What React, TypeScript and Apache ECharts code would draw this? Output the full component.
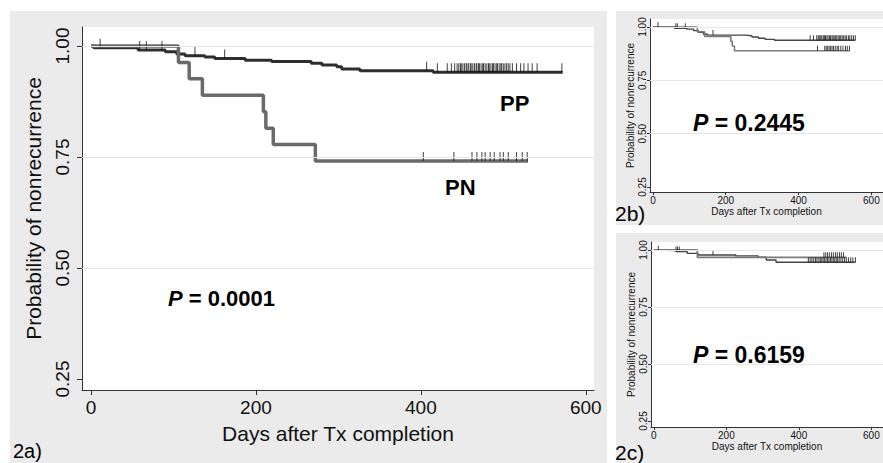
import React, { useEffect, useRef } from 'react';
import * as echarts from 'echarts';

// ---------- Data ----------
const xTicks = [0, 200, 400, 600];
const yTicks = [0.25, 0.5, 0.75, 1.0];
const gridTicks = [0.5, 0.75, 1.0];

// Panel 2a: Kaplan-Meier steps [day, probability]
const aPP: [number, number][] = [
  [0, 1], [3, 0.996], [57, 0.991], [90, 0.987], [104, 0.982], [114, 0.978], [138, 0.975],
  [150, 0.972], [187, 0.968], [219, 0.965], [267, 0.961], [280, 0.957], [298, 0.953],
  [304, 0.948], [326, 0.944], [415, 0.941], [572, 0.941],
];
const aPN: [number, number][] = [
  [0, 1], [106, 0.963], [119, 0.926], [135, 0.889], [209, 0.852], [212, 0.815],
  [221, 0.778], [272, 0.741], [530, 0.741],
];
const aPPCens = [11, 59, 67, 86, 126, 162, 407, 420, 432, 437, 441, 444, 446, 448, 449, 451, 453,
  455, 456, 458, 460, 461, 463, 465, 467, 468, 470, 471, 473, 475, 476, 478, 480, 482, 483, 485,
  487, 488, 490, 492, 493, 495, 497, 498, 500, 502, 504, 506, 508, 511, 516, 521, 525, 530, 535,
  541, 571];
const aPNCens = [403, 440, 462, 468, 474, 478, 484, 489, 496, 500, 506, 516, 523, 529];

// Panel 2b
const bPP: [number, number][] = [
  [0, 1], [59, 0.994], [93, 0.99], [112, 0.983], [125, 0.975], [139, 0.966], [150, 0.962],
  [254, 0.959], [272, 0.953], [290, 0.947], [308, 0.942], [334, 0.938], [556, 0.938],
];
const bPN: [number, number][] = [
  [0, 1], [122, 0.978], [142, 0.956], [214, 0.933], [218, 0.911], [224, 0.889], [540, 0.889],
];
const bPPCens = [14, 63, 67, 89, 165, 432, 441, 450, 454, 457, 461, 464, 468, 471, 474, 478, 481,
  485, 488, 492, 495, 498, 502, 505, 509, 513, 516, 520, 524, 528, 532, 537, 541, 546, 551, 556];
const bPNCens = [452, 472, 476, 480, 484, 488, 492, 496, 501, 506, 510, 516, 522, 529, 534, 540];

// Panel 2c
const cPP: [number, number][] = [
  [0, 1], [5, 0.997], [61, 0.993], [92, 0.985], [122, 0.978], [226, 0.974], [288, 0.968],
  [310, 0.956], [337, 0.946], [556, 0.946],
];
const cPN: [number, number][] = [[0, 1], [120, 0.968], [531, 0.968]];
const cPPCens = [12, 61, 65, 70, 163, 426, 431, 436, 441, 446, 450, 455, 459, 463, 467, 471, 475,
  479, 483, 487, 491, 495, 499, 503, 507, 511, 516, 521, 526, 531, 537, 543, 549, 556];
const cPNCens = [469, 474, 479, 484, 490, 495, 501, 506, 512, 517, 523];

const pValues = ['0.0001', '0.2445', '0.6159'];
const panelLabels = ['2a)', '2b)', '2c)'];

// ---------- Helpers ----------
const FONT = "'Liberation Sans', Arial, Helvetica, sans-serif";
const GRAY_BG = '#ebebeb';
const GRID_LINE = '#e6e6e6';

function kmAt(steps: [number, number][], t: number): number {
  let v = steps[0][1];
  for (const [x, y] of steps) {
    if (x <= t) v = y;
    else break;
  }
  return v;
}

type PanelCfg = {
  grid: { left: number; top: number; width: number; height: number };
  xMin: number; xMax: number; yMin: number; yMax: number;
  tickFont: number; nameFont: number; tickLen: number;
  xLabelMargin: number; yLabelMargin: number; xNameGap: number; yNameGap: number;
  pp: [number, number][]; pn: [number, number][];
  ppCens: number[]; pnCens: number[];
  ppColor: string; pnColor: string; ppWidth: number; pnWidth: number;
  censH: number;
};

function App() {
  const ref = useRef<HTMLDivElement>(null);

  useEffect(() => {
    if (!ref.current) return;
    const chart = echarts.init(ref.current, undefined, { renderer: 'svg' });

    const panels: PanelCfg[] = [
      {
        grid: { left: 82, top: 27, width: 512, height: 363 },
        xMin: -11, xMax: 610, yMin: 0.2252, yMax: 1.0428,
        tickFont: 19, nameFont: 21, tickLen: 5,
        xLabelMargin: 8, yLabelMargin: 10, xNameGap: 33, yNameGap: 38,
        pp: aPP, pn: aPN, ppCens: aPPCens, pnCens: aPNCens,
        ppColor: '#2e2e2e', pnColor: '#6a6a6a', ppWidth: 3, pnWidth: 3.5, censH: 9,
      },
      {
        grid: { left: 650, top: 19, width: 240, height: 173 },
        xMin: -8, xMax: 632, yMin: 0.2265, yMax: 1.0375,
        tickFont: 10, nameFont: 10, tickLen: 3,
        xLabelMargin: 3, yLabelMargin: 3, xNameGap: 14, yNameGap: 15,
        pp: bPP, pn: bPN, ppCens: bPPCens, pnCens: bPNCens,
        ppColor: '#444444', pnColor: '#7a7a7a', ppWidth: 1.4, pnWidth: 1.6, censH: 5,
      },
      {
        grid: { left: 651, top: 242, width: 240, height: 185 },
        xMin: -8, xMax: 632, yMin: 0.2237, yMax: 1.035,
        tickFont: 10, nameFont: 10, tickLen: 3,
        xLabelMargin: 3, yLabelMargin: 3, xNameGap: 14, yNameGap: 15,
        pp: cPP, pn: cPN, ppCens: cPPCens, pnCens: cPNCens,
        ppColor: '#444444', pnColor: '#7a7a7a', ppWidth: 1.4, pnWidth: 1.8, censH: 5,
      },
    ];

    const grids: any[] = [];
    const xAxes: any[] = [];
    const yAxes: any[] = [];
    const series: any[] = [];

    panels.forEach((p, i) => {
      grids.push({ ...p.grid, show: true, backgroundColor: '#ffffff', borderWidth: 0, containLabel: false });
      xAxes.push({
        type: 'value', gridIndex: i, min: p.xMin, max: p.xMax,
        name: 'Days after Tx completion', nameLocation: 'middle', nameGap: p.xNameGap,
        nameTextStyle: { fontSize: p.nameFont, color: '#111', fontFamily: FONT },
        axisLine: { show: true, onZero: false, lineStyle: { color: '#333', width: 1 } },
        axisTick: { show: true, length: p.tickLen, customValues: xTicks, lineStyle: { color: '#333', width: 1 } },
        axisLabel: {
          customValues: xTicks, fontSize: p.tickFont, margin: p.xLabelMargin, color: '#111',
          fontFamily: FONT, alignMaxLabel: 'center', alignMinLabel: 'center',
        },
        splitLine: { show: false },
      });
      yAxes.push({
        type: 'value', gridIndex: i, min: p.yMin, max: p.yMax,
        name: 'Probability of nonrecurrence', nameLocation: 'middle', nameGap: p.yNameGap, nameRotate: 90,
        nameTextStyle: { fontSize: p.nameFont, color: '#111', fontFamily: FONT },
        axisLine: { show: true, onZero: false, lineStyle: { color: '#333', width: 1 } },
        axisTick: { show: true, length: p.tickLen, customValues: yTicks, lineStyle: { color: '#333', width: 1 } },
        axisLabel: {
          customValues: yTicks, rotate: 90, fontSize: p.tickFont, margin: p.yLabelMargin,
          color: '#111', fontFamily: FONT, formatter: (v: number) => v.toFixed(2),
        },
        splitLine: { show: false },
      });
      // gridlines
      series.push({
        type: 'line', xAxisIndex: i, yAxisIndex: i, data: [], z: 1, silent: true,
        markLine: {
          silent: true, symbol: 'none', label: { show: false },
          lineStyle: { color: GRID_LINE, width: 1, type: 'solid' },
          data: gridTicks.map((v) => ({ yAxis: v })),
        },
      });
      series.push({
        type: 'line', name: 'PP' + i, xAxisIndex: i, yAxisIndex: i, data: p.pp, step: 'end',
        symbol: 'none', z: 3, lineStyle: { color: p.ppColor, width: p.ppWidth },
      });
      series.push({
        type: 'line', name: 'PN' + i, xAxisIndex: i, yAxisIndex: i, data: p.pn, step: 'end',
        symbol: 'none', z: 3, lineStyle: { color: p.pnColor, width: p.pnWidth },
      });
      series.push({
        type: 'scatter', xAxisIndex: i, yAxisIndex: i, z: 4,
        data: p.ppCens.map((t) => [t, kmAt(p.pp, t)]),
        symbol: 'rect', symbolSize: [1, p.censH], symbolOffset: [0, -p.censH / 2],
        itemStyle: { color: '#111' },
      });
      series.push({
        type: 'scatter', xAxisIndex: i, yAxisIndex: i, z: 4,
        data: p.pnCens.map((t) => [t, kmAt(p.pn, t)]),
        symbol: 'rect', symbolSize: [1, p.censH], symbolOffset: [0, -p.censH / 2],
        itemStyle: { color: '#111' },
      });
    });

    const pText = (x: number, y: number, size: number, val: string) => ({
      type: 'text', x, y, z: 10,
      style: {
        text: '{i|P} = ' + val,
        fontSize: size, fontWeight: 'bold', fontFamily: FONT, fill: '#000',
        verticalAlign: 'middle', align: 'left',
        rich: { i: { fontSize: size, fontWeight: 'bold', fontStyle: 'italic', fontFamily: FONT, fill: '#000' } },
      },
    });
    const plainText = (x: number, y: number, size: number, txt: string, bold = false) => ({
      type: 'text', x, y, z: 10,
      style: {
        text: txt, fontSize: size, fontWeight: bold ? 'bold' : 'normal', fontFamily: FONT,
        fill: '#000', verticalAlign: 'middle', align: 'left',
      },
    });

    const option: any = {
      animation: false,
      backgroundColor: '#ffffff',
      grid: grids,
      xAxis: xAxes,
      yAxis: yAxes,
      series,
      graphic: {
        elements: [
          { type: 'rect', z: -10, shape: { x: 10, y: 11, width: 597, height: 452 }, style: { fill: GRAY_BG } },
          { type: 'rect', z: -10, shape: { x: 616, y: 11, width: 267, height: 214 }, style: { fill: GRAY_BG } },
          { type: 'rect', z: -10, shape: { x: 616, y: 233, width: 267, height: 230 }, style: { fill: GRAY_BG } },
          pText(168, 298, 22, pValues[0]),
          pText(693, 123, 23, pValues[1]),
          pText(693, 355, 23, pValues[2]),
          plainText(500, 103, 22, 'PP', true),
          plainText(445, 187, 22, 'PN', true),
          plainText(13, 451, 20, panelLabels[0]),
          plainText(615, 213, 21, panelLabels[1]),
          plainText(615, 452, 21, panelLabels[2]),
        ],
      },
    };

    chart.setOption(option);
    return () => chart.dispose();
  }, []);

  return (
    <div
      ref={ref}
      style={{ position: 'fixed', left: 0, top: 0, width: 883, height: 463, overflow: 'hidden', background: '#fff' }}
    />
  );
}

export default App;
